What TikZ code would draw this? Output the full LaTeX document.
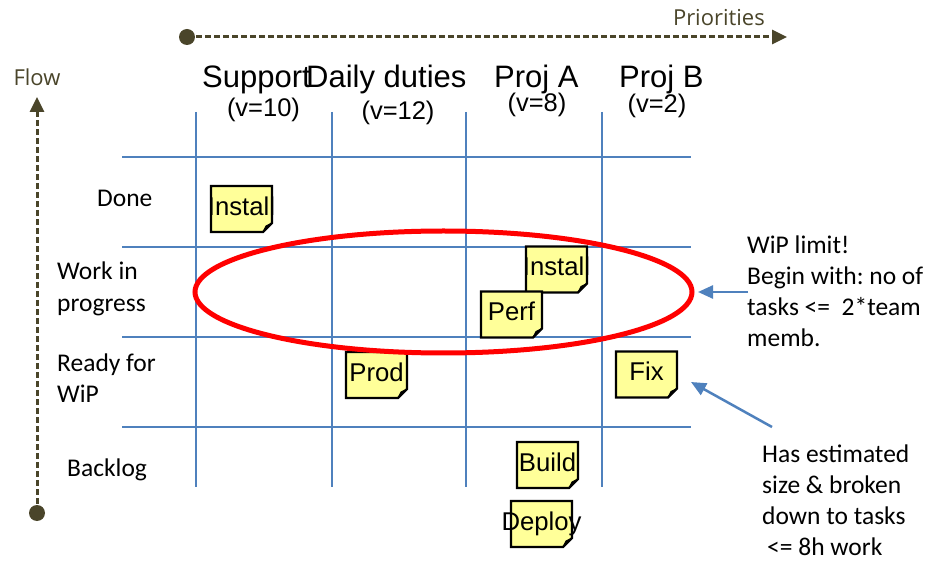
\documentclass[tikz,border=0pt]{standalone}
\usepackage{fontspec}
\setmainfont{Carlito}
\newfontfamily\arialf{Liberation Sans}
\newfontfamily\osans{Open Sans}
\usetikzlibrary{arrows.meta}
\frenchspacing
\definecolor{gridblue}{HTML}{4F81BD}
\definecolor{olivedark}{HTML}{4A452A}
\definecolor{noteyellow}{HTML}{FFFF99}
\tikzset{
  gridline/.style={gridblue, line width=2pt},
  flowline/.style={olivedark, line width=3pt, dash pattern=on 6pt off 3pt, -{Triangle[length=15pt,width=14pt]}},
  flowdot/.style={circle, fill=olivedark, minimum size=16pt, inner sep=0pt},
  axislabel/.style={olivedark, font=\osans\fontsize{22}{26}\selectfont, inner sep=0pt},
  notearrow/.style={gridblue, line width=2.5pt, -{Triangle[length=15pt,width=13pt]}},
  header/.style={font=\arialf\fontsize{31}{36}\selectfont, inner sep=0pt, anchor=base west},
  subheader/.style={font=\arialf\fontsize{25.5}{30}\selectfont, inner sep=0pt, anchor=base},
  rowlabel/.style={font=\fontsize{25.5}{32}\selectfont, inner sep=0pt, anchor=base west, align=left},
  remark/.style={font=\fontsize{25.5}{31}\selectfont, inner sep=0pt, anchor=base west, align=left},
  notetext/.style={font=\arialf\fontsize{25.7}{30}\selectfont, inner sep=0pt, anchor=base},
  noteshape/.style={fill=noteyellow, draw=black, line width=2.3pt, line join=miter},
  notefold/.style={fill=black, draw=black, line width=1pt, line join=round}
}
% #1 name, #2 cx, #3 cy, #4 text
\newcommand\stickynote[4]{%
  \path[noteshape] ({#2-30.5},{#3-23}) -- ({#2+30.5},{#3-23}) -- ({#2+30.5},{#3+14})
     -- ({#2+21.5},{#3+23}) -- ({#2-30.5},{#3+23}) -- cycle;
  \path[notefold] ({#2+21.5},{#3+23}) -- ({#2+30.5},{#3+14}) -- ({#2+24.5},{#3+17}) -- cycle;
  \node[notetext] (#1) at (#2,{#3+6.5}) {#4};
}
\begin{document}
\begin{tikzpicture}[x=1pt,y=-1pt]
\fill[white] (0,0) rectangle (930,561);
\useasboundingbox (0,0) rectangle (930,561);

% grid
\foreach \yy in {157,247,337,427} \draw[gridline] (122,\yy) -- (691,\yy);
\foreach \xx in {196,332,466,602} \draw[gridline] (\xx,112) -- (\xx,487);

% priorities axis
\node[flowdot] (prdot) at (187,37) {};
\coordinate (prtip) at (787,37);
\draw[flowline] (prdot.center) -- (prtip);
\node[axislabel, anchor=base east] (prlabel) at (765,26) {Priorities};

% flow axis
\node[flowdot] (fldot) at (37,513) {};
\coordinate (fltip) at (37,97);
\draw[flowline] (fldot.center) -- (fltip);
\node[axislabel, anchor=base] (fllabel) at (37,86) {Flow};

% column headers
\node[header] (hsupport) at (202,88) {Support};
\node[header] (hdaily) at (306,88) {Daily duties};
\node[header] (hproja) at (494,88) {Proj A};
\node[header] (hprojb) at (619,88) {Proj B};
\node[subheader] (vsupport) at (263.5,117) {(v=10)};
\node[subheader] (vdaily) at (398,120) {(v=12)};
\node[subheader] (vproja) at (537,112) {(v=8)};
\node[subheader] (vprojb) at (657,113) {(v=2)};

% row labels (anchored at the baseline of the last line)
\node[rowlabel] (rdone) at (97,207) {Done};
\node[rowlabel] (rwip) at (57,312) {Work in\\progress};
\node[rowlabel] (rready) at (57,403) {Ready for\\WiP};
\node[rowlabel] (rbacklog) at (67,477) {Backlog};

% sticky notes
\stickynote{ndone}{241.5}{209}{Install}
\stickynote{nwip}{556.5}{269.5}{Install}
\stickynote{nperf}{511.5}{314.5}{Perf}
\stickynote{nprod}{376.5}{375}{Prod}
\stickynote{nfix}{646.5}{374.5}{Fix}
\stickynote{nbuild}{547.5}{465}{Build}
\stickynote{ndeploy}{541.5}{524}{Deploy}

% WiP limit ellipse
\draw[red, line width=5pt] (443.5,292) ellipse [x radius=248.5pt, y radius=61pt];

% remarks (anchored at the baseline of the last line)
\node[remark] (wiptext) at (747,347) {WiP limit!\\Begin with: no of\\tasks <=\ \ 2*team\\memb.};
\node[remark] (fixtext) at (762,555) {Has estimated\\size \& broken\\down to tasks\\\hspace*{5pt}<= 8h work};

\coordinate (wipfrom) at (748,292);
\coordinate (wipto) at (698,292);
\draw[notearrow] (wipfrom) -- (wipto);
\coordinate (fixfrom) at (772,427);
\coordinate (fixto) at (691,382);
\draw[notearrow] (fixfrom) -- (fixto);
\end{tikzpicture}
\end{document}
